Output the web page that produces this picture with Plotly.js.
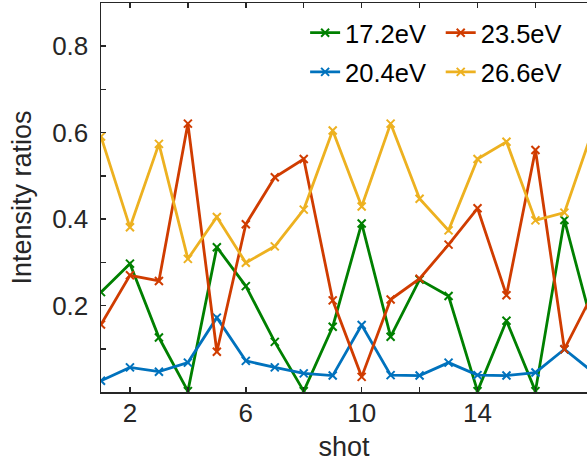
<!DOCTYPE html>
<html>
<head>
<meta charset="utf-8">
<script src="https://cdn.plot.ly/plotly-3.0.1.min.js"></script>
<style>html,body{margin:0;padding:0;background:#fff;}#chart{width:587px;height:462px;}</style>
</head>
<body>
<div id="chart"></div>
<script>
const shots = [1,2,3,4,5,6,7,8,9,10,11,12,13,14,15,16,17,18];
const e172 = [0.231,0.297,0.126,0.002,0.335,0.245,0.116,0.002,0.151,0.390,0.128,0.260,0.222,0.002,0.165,0.002,0.398,0.145];
const e204 = [0.026,0.057,0.047,0.068,0.172,0.072,0.057,0.043,0.038,0.155,0.039,0.038,0.068,0.039,0.038,0.045,0.099,0.045];
const e235 = [0.156,0.270,0.257,0.621,0.093,0.388,0.497,0.539,0.212,0.035,0.214,0.262,0.341,0.425,0.224,0.560,0.099,0.230];
const e266 = [0.591,0.381,0.574,0.308,0.405,0.299,0.337,0.422,0.605,0.429,0.621,0.447,0.374,0.539,0.579,0.397,0.415,0.610];
const names = ['17.2eV','20.4eV','23.5eV','26.6eV'];
const colors = ['#008000','#0072BD','#D03C00','#EDB120'];
const xTicks = [2,4,6,8,10,12,14,16];
const xTickText = ['2','','6','','10','','14',''];
const yTicks = [0.1,0.2,0.3,0.4,0.5,0.6,0.7,0.8];
const yTickText = ['','0.2','','0.4','','0.6','','0.8'];

const series = [e172, e204, e235, e266];
const legendOf = ['legend','legend','legend2','legend2'];
const traces = series.map((ys, i) => ({
  x: shots, y: ys, name: names[i], type: 'scatter', mode: 'lines+markers',
  line: {color: colors[i], width: 2.8},
  marker: {symbol: 'x-thin', size: 8, color: colors[i], line: {width: 2, color: colors[i]}},
  legend: legendOf[i], legendgroup: names[i]
}));
const font = {family: 'Liberation Sans, Arial, Helvetica, sans-serif', color: '#262626'};
const legendBase = {
  font: {family: font.family, size: 25.5, color: '#000'},
  bgcolor: 'rgba(0,0,0,0)', borderwidth: 0,
  yanchor: 'top', xanchor: 'left', tracegroupgap: 3, itemwidth: 30
};
const layout = {
  width: 587, height: 462,
  margin: {l: 101, r: 0, t: 3, b: 70},
  paper_bgcolor: '#fff', plot_bgcolor: '#fff',
  font: font,
  showlegend: true,
  legend: Object.assign({}, legendBase, {x: 0.42, y: 0.983}),
  legend2: Object.assign({}, legendBase, {x: 0.699, y: 0.983}),
  xaxis: {
    range: [1, 17.78], showgrid: false, zeroline: false,
    tickmode: 'array', tickvals: xTicks, ticktext: xTickText,
    ticks: 'inside', ticklen: 5, tickwidth: 1.5, tickcolor: '#262626',
    showline: true, linecolor: '#262626', linewidth: 1.5, mirror: 'ticks',
    tickfont: {size: 26, color: '#262626'}, ticklabelstandoff: -3,
    title: {text: 'shot', font: {size: 27, color: '#262626'}, standoff: 12}
  },
  yaxis: {
    range: [0, 0.9], showgrid: false, zeroline: false,
    tickmode: 'array', tickvals: yTicks, ticktext: yTickText,
    ticks: 'inside', ticklen: 5, tickwidth: 1.5, tickcolor: '#262626',
    showline: true, linecolor: '#262626', linewidth: 1.5,
    tickfont: {size: 26, color: '#262626'}, ticklabelstandoff: 6,
    title: {text: 'Intensity ratios', font: {size: 27, color: '#262626'}, standoff: 12}
  }
};
Plotly.newPlot('chart', traces, layout, {displayModeBar: false, staticPlot: true});
</script>
</body>
</html>
